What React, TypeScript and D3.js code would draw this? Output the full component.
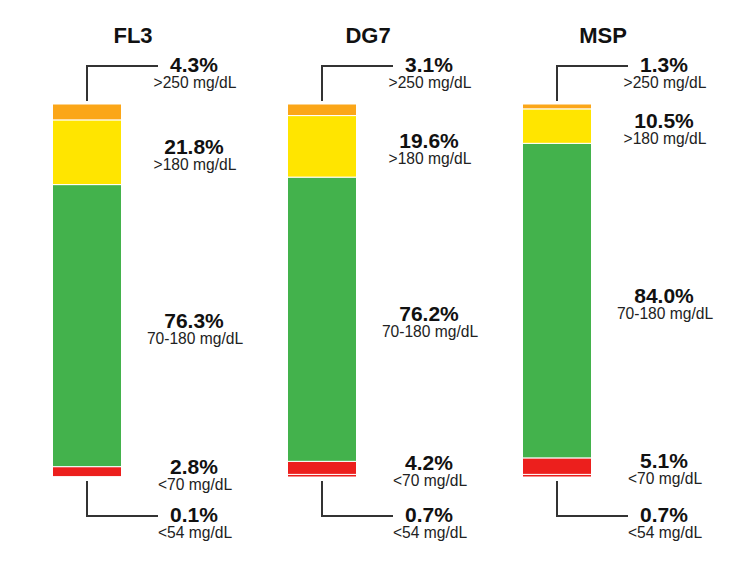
import * as React from 'react';
import * as d3 from 'd3';

// glucose time-in-range, one bar per device
const groups = ['FL3', 'DG7', 'MSP'];
const veryHigh = [4.3, 3.1, 1.3];   // >250 mg/dL
const high = [21.8, 19.6, 10.5];    // >180 mg/dL (includes >250)
const inRange = [76.3, 76.2, 84.0]; // 70-180 mg/dL
const low = [2.8, 4.2, 5.1];        // <70 mg/dL (includes <54)
const veryLow = [0.1, 0.7, 0.7];    // <54 mg/dL

const rangeLabels = ['>250 mg/dL', '>180 mg/dL', '70-180 mg/dL', '<70 mg/dL', '<54 mg/dL'];
const keys = ['vl', 'l', 'tir', 'h', 'vh'];
const colors: any = { vh: '#FBA618', h: '#FFE500', tir: '#43B24C', l: '#EC1F1D', vl: '#EC1F1D' };

const width = 735, height = 562;
const barW = 69;
const barTop = 104, barBottom = 477;
const font = '"Liberation Sans", Arial, sans-serif';
const fmt = (v: number) => d3.format('.1f')(v) + '%';

export default function App() {
  // stacked pieces, bottom to top
  const rows = groups.map((g, i) => ({
    group: g,
    vl: veryLow[i],
    l: +(low[i] - veryLow[i]).toFixed(1),
    tir: inRange[i],
    h: +(high[i] - veryHigh[i]).toFixed(1),
    vh: veryHigh[i],
  }));
  const series = d3.stack<any>().keys(keys)(rows);

  const x = d3.scalePoint().domain(groups).range([87, 557]);

  return (
    <svg width={width} height={height} style={{ position: 'absolute', left: 0, top: 0, background: '#fff' }}
      fontFamily={font}>
      {groups.map((g, i) => {
        const cx = x(g) as number;
        const total = series[series.length - 1][i][1];
        const y = d3.scaleLinear().domain([0, total]).range([barBottom, barTop]);
        const seg = (k: string) => series[keys.indexOf(k)][i];
        const mid = (k: string) => (y(seg(k)[0]) + y(seg(k)[1])) / 2;
        const lx = cx + 107;
        const topLine = y(total) - 38;
        const botLine = y(0) + 39;

        const label = (val: number, sub: string, yy: number, key: string) => (
          <g key={key}>
            <text x={lx} y={yy} textAnchor="middle" fontSize={21} fontWeight="bold" fill="#111">{fmt(val)}</text>
            <text x={lx + 1} y={yy + 16} textAnchor="middle" fontSize={15.6} fill="#222">{sub}</text>
          </g>
        );

        return (
          <g key={g}>
            <text x={cx + 46} y={43} textAnchor="middle" fontSize={22} fontWeight="bold" fill="#111">{g}</text>
            {keys.map(k => (
              <rect key={k} x={cx - barW / 2} width={barW}
                y={y(seg(k)[1])} height={Math.max(0, y(seg(k)[0]) - y(seg(k)[1]))}
                fill={colors[k]} stroke="#fff" strokeWidth={1} />
            ))}
            {/* leader lines for the extreme ranges */}
            <path d={`M${cx},${y(total) - 3}V${topLine}H${cx + 71}`} fill="none" stroke="#333" strokeWidth={2} />
            <path d={`M${cx},${y(0) + 4}V${botLine}H${cx + 71}`} fill="none" stroke="#333" strokeWidth={2} />
            {label(veryHigh[i], rangeLabels[0], topLine + 6, 'vh')}
            {label(high[i], rangeLabels[1], mid('h') + 2, 'h')}
            {label(inRange[i], rangeLabels[2], mid('tir') + 2, 'tir')}
            {label(low[i], rangeLabels[3], mid('l') + 2, 'l')}
            {label(veryLow[i], rangeLabels[4], botLine + 6, 'vl')}
          </g>
        );
      })}
    </svg>
  );
}
